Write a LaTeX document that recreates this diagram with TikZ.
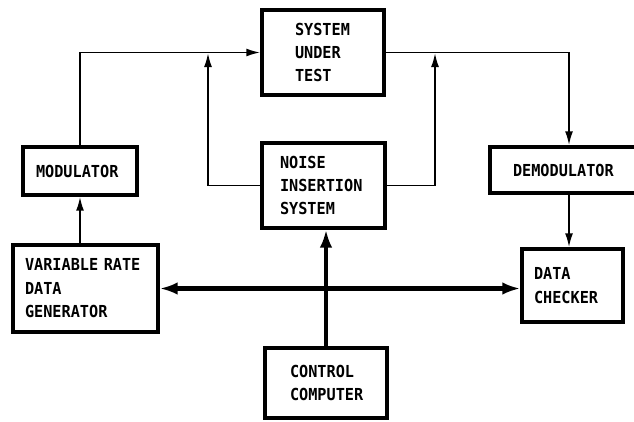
\documentclass[tikz,border=0pt]{standalone}
\usepackage{fontspec}
\setmonofont{DejaVu Sans Mono}[FakeStretch=0.92]
\usetikzlibrary{arrows.meta}

\begin{document}
\begin{tikzpicture}
[x=0.75pt,y=-0.75pt,
  nodeDecorate/.style={shape=rectangle,draw,line width=2.6pt,inner ysep=0pt,%
    align=left,font=\ttfamily\bfseries\fontsize{12.4}{17.6}\selectfont},%
  lineDecorate/.style={line width=1.4pt,-{Latex[length=10.5pt,width=6pt]}},%
  busDecorate/.style={line width=3.2pt,{Latex[length=13.5pt,width=9.5pt]}-{Latex[length=13.5pt,width=9.5pt]}}]
\useasboundingbox (0,0) rectangle (634,421);
%% blocks
\foreach \nodename/\x/\y/\w/\h/\sep/\txt in {
  sut/323/52.5/122/85/33/{SYSTEM\\UNDER\\TEST},
  noise/323.5/185.5/123/85/18/{NOISE\\INSERTION\\SYSTEM},
  mod/80/171/114/48/13/{MODULATOR},
  demod/569/170/158/46/23/{DEMODULATOR},
  vrdg/85.5/288.5/145/87/12/{VARIABLE RATE\\DATA\\GENERATOR},
  checker/572.5/285.5/101/73/12/{DATA\\CHECKER},
  computer/326/383/122/70/25/{CONTROL\\COMPUTER}}
{
  \pgfmathsetmacro\tw{(\w-2*\sep)*0.75}
  \pgfmathsetmacro\xs{\sep*0.75}
  \pgfmathsetmacro\mh{\h*0.75}
  \node (\nodename) at (\x,\y) [nodeDecorate,text width=\tw pt,inner xsep=\xs pt,minimum height=\mh pt] {\txt};
}
%% connectors
\coordinate (jL) at (208,53);
\coordinate (jR) at (435,53);
\draw[lineDecorate] (mod.north) |- (sut.west);
\draw[lineDecorate] (noise.west) -| (jL);
\draw[lineDecorate] (noise.east) -| (jR);
\draw[lineDecorate] (sut.east) -| (demod.north);
\draw[lineDecorate] (demod.south) -- (demod.south |- checker.north);
\draw[lineDecorate] (vrdg.north -| mod.south) -- (mod.south);
\draw[busDecorate] (vrdg.east) -- (vrdg.east -| checker.west);
\draw[busDecorate,{Latex[length=13.5pt,width=9.5pt]}-] (noise.south -| computer.north) -- (computer.north);
\end{tikzpicture}
\end{document}
